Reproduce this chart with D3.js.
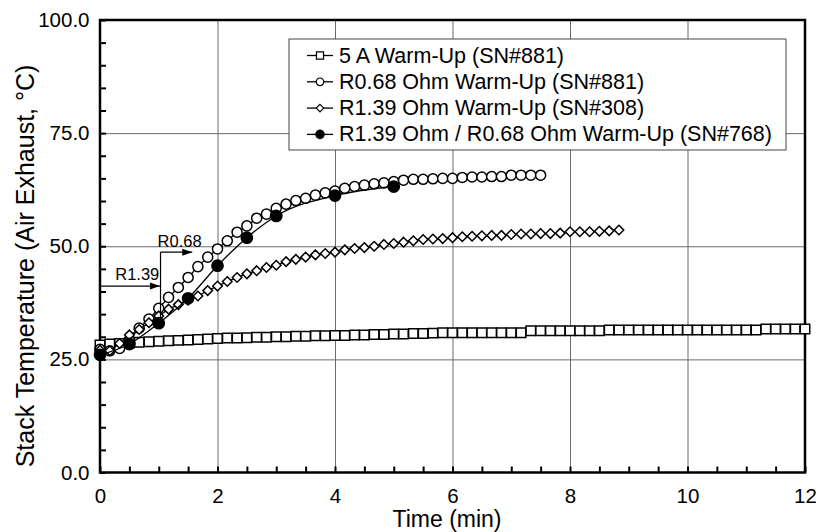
<!DOCTYPE html>
<html>
<head>
<meta charset="utf-8">
<script src="https://cdn.jsdelivr.net/npm/d3@7"></script>
<style>
  body { margin: 0; background: #fff; }
  svg { display: block; font-family: "Liberation Sans", Arial, Helvetica, sans-serif; }
</style>
</head>
<body>
<div id="chart"></div>
<script>
// 10 s sampling for the three dense series (minutes)
const T_STEP = 1 / 6;

// 5 A Warm-Up (SN#881), 0 .. 12 min
const squareTemp = [
  28.2, 28.4, 28.5, 28.6, 28.8, 28.9, 29.0, 29.1, 29.2, 29.3, 29.4, 29.5, 29.6,
  29.7, 29.7, 29.8, 29.9, 29.9, 30.0, 30.0, 30.1, 30.1, 30.2, 30.2, 30.3,
  30.3, 30.4, 30.4, 30.5, 30.5, 30.6, 30.6, 30.7, 30.7, 30.8, 30.9, 30.9,
  30.9, 30.9, 30.9, 30.9, 30.9, 30.9, 30.9,
  31.3, 31.3, 31.3, 31.3, 31.3, 31.3, 31.3, 31.3,
  31.5, 31.5, 31.5, 31.5, 31.5, 31.5, 31.5, 31.5, 31.5, 31.5, 31.5, 31.5, 31.5, 31.5, 31.5, 31.5,
  31.7, 31.7, 31.7, 31.7, 31.7
];

// R0.68 Ohm Warm-Up (SN#881), 0 .. 7.5 min
const openCircleTemp = [
  27.2, 26.9, 27.4, 29.3, 31.9, 33.9, 36.3, 38.7, 40.9, 43.1, 45.5, 47.6, 49.4,
  51.2, 53.1, 54.5, 56.2, 57.1, 58.4, 59.3, 60.1, 60.6, 61.3, 61.8, 62.2,
  62.8, 63.2, 63.5, 63.8, 64.0, 64.3, 64.6, 64.8, 64.8, 64.9, 65.0, 65.0,
  65.2, 65.3, 65.3, 65.4, 65.4, 65.7, 65.7, 65.7, 65.7
];

// R1.39 Ohm Warm-Up (SN#308), 0 .. 8.83 min
const diamondTemp = [
  27.0, 26.9, 28.5, 30.4, 31.6, 33.1, 34.6, 36.1, 37.1, 38.1, 39.0, 40.2, 41.2,
  42.2, 43.1, 43.9, 44.6, 45.3, 45.8, 46.6, 47.1, 47.6, 48.1, 48.4, 48.7,
  49.2, 49.5, 49.7, 50.0, 50.4, 50.6, 50.9, 51.2, 51.5, 51.6, 51.7, 51.9,
  52.1, 52.2, 52.3, 52.4, 52.4, 52.6, 52.7, 52.7, 52.8, 52.8, 52.9, 53.2,
  53.2, 53.2, 53.3, 53.4, 53.6
];

// R1.39 Ohm / R0.68 Ohm Warm-Up (SN#768)
const filledTime = [0, 0.5, 1, 1.5, 2, 2.5, 3, 4, 5];
const filledTemp = [26.0, 28.4, 33.0, 38.5, 45.7, 51.9, 56.7, 61.2, 63.2];

const legendLabels = [
  '5 A Warm-Up (SN#881)',
  'R0.68 Ohm Warm-Up (SN#881)',
  'R1.39 Ohm Warm-Up (SN#308)',
  'R1.39 Ohm / R0.68 Ohm Warm-Up (SN#768)'
];

const xTicks = [0, 2, 4, 6, 8, 10, 12];
const yTicks = [0, 25, 50, 75, 100];

// switch-over arrows (time, temp)
const arrows = [
  { label: 'R1.39', from: [0, 41.2], to: [1.02, 41.2], text: [0.26, 42.5] },
  { label: 'R0.68', from: [1.03, 48.7], to: [1.57, 48.7], text: [0.98, 49.8] }
];
const switchLine = [[1.03, 34.1], [1.03, 48.7]];

const W = 816, H = 532;
const MARGIN = { TOP: 20, LEFT: 100, RIGHT: 11, BOTTOM: 59.5 };
const innerW = W - MARGIN.LEFT - MARGIN.RIGHT;
const innerH = H - MARGIN.TOP - MARGIN.BOTTOM;

const svg = d3.select('#chart').append('svg').attr('width', W).attr('height', H);

svg.append('defs').append('marker')
  .attr('id', 'arrowhead')
  .attr('viewBox', '0 0 10 8')
  .attr('refX', 10).attr('refY', 4)
  .attr('markerWidth', 11).attr('markerHeight', 8)
  .attr('markerUnits', 'userSpaceOnUse')
  .attr('orient', 'auto')
  .append('path').attr('d', 'M0,0.5 L10,4 L0,7.5 Z').attr('fill', '#000');

const g = svg.append('g').attr('transform', `translate(${MARGIN.LEFT},${MARGIN.TOP})`);

const x = d3.scaleLinear().domain([0, 12]).range([0, innerW]);
const y = d3.scaleLinear().domain([0, 100]).range([innerH, 0]);

// grid
g.append('g').attr('transform', `translate(0,${innerH})`)
  .call(d3.axisBottom(x).tickValues([2, 4, 6, 8, 10]).tickSize(-innerH).tickFormat(''))
  .call(a => a.select('.domain').remove())
  .selectAll('line').attr('stroke', '#6a6a6a').attr('stroke-width', 1);
g.append('g')
  .call(d3.axisLeft(y).tickValues([25, 50, 75]).tickSize(-innerW).tickFormat(''))
  .call(a => a.select('.domain').remove())
  .selectAll('line').attr('stroke', '#6a6a6a').attr('stroke-width', 1);

// inward minor ticks
g.append('g').attr('transform', `translate(0,${innerH})`)
  .call(d3.axisBottom(x).tickValues(d3.range(0, 12.01, 0.5)).tickSize(-6).tickFormat(''))
  .call(a => a.select('.domain').remove())
  .selectAll('line').attr('stroke', '#000').attr('stroke-width', 2);
g.append('g')
  .call(d3.axisLeft(y).tickValues(d3.range(0, 100.1, 5)).tickSize(-6).tickFormat(''))
  .call(a => a.select('.domain').remove())
  .selectAll('line').attr('stroke', '#000').attr('stroke-width', 2);

// tick labels
const xLab = g.append('g').attr('transform', `translate(0,${innerH})`)
  .call(d3.axisBottom(x).tickValues(xTicks).tickSize(0).tickPadding(15.5).tickFormat(d3.format('d')));
xLab.select('.domain').remove();
xLab.selectAll('text').attr('font-size', 20.5).attr('font-family', null).attr('fill', '#000');

const yLab = g.append('g')
  .call(d3.axisLeft(y).tickValues(yTicks).tickSize(0).tickPadding(10.5).tickFormat(d3.format('.1f')));
yLab.select('.domain').remove();
yLab.selectAll('text').attr('font-size', 20.5).attr('font-family', null).attr('fill', '#000');

// frame
g.append('rect').attr('width', innerW).attr('height', innerH)
  .attr('fill', 'none').attr('stroke', '#000').attr('stroke-width', 2.5);

// axis titles
svg.append('text')
  .attr('x', 447).attr('y', 527)
  .attr('text-anchor', 'middle').attr('font-size', 23)
  .text('Time (min)');
svg.append('text')
  .attr('transform', 'translate(34,266) rotate(-90)')
  .attr('text-anchor', 'middle').attr('font-size', 25)
  .text('Stack Temperature (Air Exhaust, °C)');

// series
const line = d3.line().x(d => x(d[0])).y(d => y(d[1]));
const toPts = (temps, times) => temps.map((v, i) => [times ? times[i] : i * T_STEP, v]);

const squarePts = toPts(squareTemp);
const circlePts = toPts(openCircleTemp);
const diamondPts = toPts(diamondTemp);
const filledPts = toPts(filledTemp, filledTime);

const diamondType = d3.symbolDiamond2 || d3.symbolDiamond;
const symSquare = d3.symbol().type(d3.symbolSquare).size(90);
const symCircle = d3.symbol().type(d3.symbolCircle).size(80);
const symDiamond = d3.symbol().type(diamondType).size(58);
const symFilled = d3.symbol().type(d3.symbolCircle).size(100);

const series = [
  { pts: squarePts, sym: symSquare, fill: '#fff', curve: d3.curveLinear },
  { pts: circlePts, sym: symCircle, fill: '#fff', curve: d3.curveLinear },
  { pts: diamondPts, sym: symDiamond, fill: '#fff', curve: d3.curveLinear },
  { pts: filledPts, sym: symFilled, fill: '#000', curve: d3.curveMonotoneX }
];

series.forEach(s => {
  g.append('path').datum(s.pts)
    .attr('d', line.curve(s.curve))
    .attr('fill', 'none').attr('stroke', '#000').attr('stroke-width', 1.3);
  g.append('g').selectAll('path').data(s.pts).join('path')
    .attr('transform', d => `translate(${x(d[0])},${y(d[1])})`)
    .attr('d', s.sym)
    .attr('fill', s.fill).attr('stroke', '#000').attr('stroke-width', 1.5);
});

// switch-over annotation
g.append('path').datum(switchLine).attr('d', line.curve(d3.curveLinear))
  .attr('stroke', '#000').attr('stroke-width', 1.2).attr('fill', 'none');
arrows.forEach(a => {
  g.append('line')
    .attr('x1', x(a.from[0])).attr('y1', y(a.from[1]))
    .attr('x2', x(a.to[0])).attr('y2', y(a.to[1]))
    .attr('stroke', '#000').attr('stroke-width', 1.2)
    .attr('marker-end', 'url(#arrowhead)');
  g.append('text')
    .attr('x', x(a.text[0])).attr('y', y(a.text[1]))
    .attr('font-size', 16.5).text(a.label);
});

// legend
const LEG = { X: 289, Y: 39, W: 497, H: 111, ROW: 26.3 };
const leg = svg.append('g').attr('transform', `translate(${LEG.X},${LEG.Y})`);
leg.append('rect').attr('width', LEG.W).attr('height', LEG.H)
  .attr('fill', '#fff').attr('stroke', '#444').attr('stroke-width', 1);

const legSyms = [
  d3.symbol().type(d3.symbolSquare).size(50),
  d3.symbol().type(d3.symbolCircle).size(45),
  d3.symbol().type(diamondType).size(36),
  d3.symbol().type(d3.symbolCircle).size(55)
];
const legFills = ['#fff', '#fff', '#fff', '#000'];

legendLabels.forEach((lab, i) => {
  const by = 23.5 + i * LEG.ROW;
  const row = leg.append('g');
  row.append('line').attr('x1', 18).attr('x2', 44).attr('y1', by - 7).attr('y2', by - 7)
    .attr('stroke', '#000').attr('stroke-width', 1.3);
  row.append('path').attr('transform', `translate(31,${by - 7})`)
    .attr('d', legSyms[i]).attr('fill', legFills[i]).attr('stroke', '#000').attr('stroke-width', 1.2);
  row.append('text').attr('x', 50).attr('y', by).attr('font-size', 21.5).text(lab);
});
</script>
</body>
</html>
